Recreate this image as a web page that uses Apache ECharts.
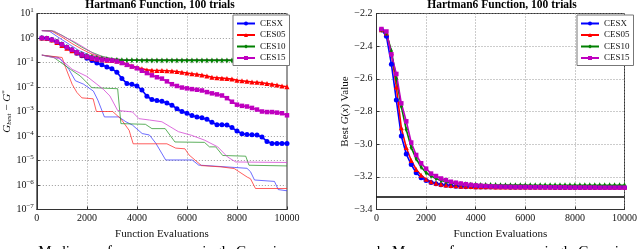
<!DOCTYPE html>
<html><head><meta charset="utf-8">
<script src="https://cdn.jsdelivr.net/npm/echarts@6/dist/echarts.min.js"></script>
<style>html,body{margin:0;padding:0;background:#fff}#c{width:640px;height:249px}</style>
</head><body><div id="c"></div><script>
// ---- data ----
const evals = [200,400,600,800,1000,1200,1400,1600,1800,2000,2200,2400,2600,2800,3000,3200,3400,3600,3800,4000,
  4200,4400,4600,4800,5000,5200,5400,5600,5800,6000,6200,6400,6600,6800,7000,7200,7400,7600,7800,8000,
  8200,8400,8600,8800,9000,9200,9400,9600,9800,10000];
const names = ['CESX','CES05','CES10','CES15'];
const xTicks = [0,2000,4000,6000,8000,10000];

// left: median G_best - G*
const cesxMedian = [1.0,0.95,0.85,0.7,0.55,0.42,0.32,0.24,0.19,0.15,0.12,0.095,0.08,0.066,0.055,0.04,0.022,0.014,0.013,0.011,
  0.0075,0.0042,0.0031,0.0028,0.0026,0.0022,0.0018,0.0013,0.001,0.00085,0.00068,0.0006,0.00055,0.00048,0.00036,0.00029,0.00029,0.00028,0.00022,0.00016,
  0.000125,0.000115,0.000112,0.00011,0.00009,0.00006,0.00005,0.00005,0.00005,0.00005];
const ces05Median = [1.0,0.95,0.82,0.65,0.5,0.38,0.3,0.25,0.2,0.17,0.15,0.14,0.13,0.125,0.12,0.115,0.1,0.085,0.072,0.062,
  0.055,0.05,0.048,0.047,0.047,0.046,0.045,0.043,0.04,0.037,0.035,0.033,0.031,0.028,0.025,0.024,0.023,0.022,0.021,0.019,
  0.018,0.017,0.016,0.0155,0.015,0.014,0.013,0.012,0.011,0.0102];
const ces10Median = [1.0,0.97,0.85,0.7,0.55,0.43,0.34,0.27,0.22,0.19,0.17,0.155,0.145,0.137,0.13,0.127,0.125,0.124,0.123,0.123,
  0.122,0.122,0.122,0.122,0.122,0.122,0.122,0.122,0.122,0.122,0.122,0.122,0.122,0.122,0.122,0.122,0.122,0.122,0.122,0.122,
  0.122,0.122,0.122,0.122,0.122,0.122,0.122,0.122,0.122,0.122];
const ces15Median = [1.0,0.97,0.85,0.7,0.55,0.42,0.33,0.26,0.21,0.175,0.155,0.14,0.13,0.125,0.12,0.11,0.095,0.08,0.068,0.058,
  0.046,0.037,0.03,0.025,0.022,0.017,0.013,0.011,0.0095,0.0088,0.0082,0.0077,0.0072,0.0062,0.0055,0.005,0.0045,0.0035,0.0025,0.0019,
  0.0017,0.0016,0.0014,0.0012,0.001,0.00095,0.00095,0.0009,0.00085,0.0007];

// left: thin quartile lines [evals, value]
const cesxLow = [[200,0.2],[880,0.16],[1280,0.053],[1540,0.018],[1870,0.013],[2260,0.0068],[2440,0.0029],[2700,0.0006],[3280,0.0006],[3560,0.00038],[3820,0.00028],[4210,0.000126],[4500,0.00011],[4760,0.00005],[5150,0.0000105],[6210,0.0000105],[6470,0.0000065],[7900,0.0000052],[8400,0.0000048],[8540,0.0000035],[8700,0.0000016],[9500,0.0000014],[9650,0.00000065],[10000,0.00000058]];
const ces05Low = [[200,0.2],[1010,0.16],[1150,0.062],[1410,0.013],[1600,0.006],[1800,0.0036],[2250,0.0033],[2380,0.001],[3030,0.001],[3360,0.0005],[3690,0.00017],[3850,0.000048],[5200,0.000048],[5550,0.000032],[5920,0.00003],[6080,0.000017],[6580,0.0000062],[7360,0.0000055],[7890,0.0000047],[8410,0.0000021],[8540,0.0000018],[8740,0.00000072],[10000,0.00000072]];
const ces10Low = [[200,0.2],[680,0.16],[1340,0.053],[1740,0.028],[2200,0.0094],[2260,0.0085],[3230,0.0085],[3360,0.00032],[4340,0.0003],[4600,0.0002],[5130,0.0002],[5520,0.000057],[6700,0.000055],[6900,0.000036],[7150,0.000036],[7430,0.000016],[8350,0.000015],[8480,0.0000064],[10000,0.000006]];
const ces15Low = [[200,0.2],[950,0.137],[1410,0.053],[2000,0.027],[2400,0.013],[2660,0.008],[2920,0.0043],[3230,0.0011],[3820,0.00096],[4080,0.00051],[4500,0.00045],[5000,0.00038],[5660,0.00015],[6180,0.000107],[6700,0.000068],[7230,0.000036],[7620,0.000014],[7950,0.0000087],[10000,0.0000083]];
const cesxHigh = [[200,2.0],[500,1.9],[900,1.0],[1300,0.55],[1700,0.3],[2100,0.2],[2500,0.16],[3000,0.14],[3500,0.13],[10000,0.125]];
const ces05High = [[200,2.0],[600,1.9],[1000,1.1],[1400,0.6],[1800,0.35],[2200,0.22],[2600,0.16],[3000,0.14],[3500,0.13],[10000,0.125]];
const ces10High = [[200,2.0],[600,2.0],[1000,1.3],[1400,0.75],[1800,0.42],[2200,0.26],[2600,0.18],[3000,0.145],[3400,0.13],[4000,0.125],[10000,0.122]];
const ces15High = [[200,2.0],[700,1.9],[1100,1.1],[1500,0.7],[1900,0.4],[2300,0.22],[2700,0.16],[3100,0.14],[3600,0.13],[10000,0.125]];

// right: mean best G(x)
const cesxMean = [-2.30,-2.34,-2.51,-2.73,-2.95,-3.06,-3.125,-3.175,-3.205,-3.222,-3.234,-3.242,-3.248,-3.252,-3.255,-3.257,-3.259,-3.26,-3.261,-3.262,
  -3.262,-3.263,-3.263,-3.263,-3.263,-3.263,-3.264,-3.264,-3.264,-3.264,-3.264,-3.264,-3.264,-3.264,-3.264,-3.265,-3.265,-3.265,-3.265,-3.265,
  -3.265,-3.265,-3.265,-3.265,-3.265,-3.265,-3.265,-3.265,-3.265,-3.265];
const ces05Mean = [-2.30,-2.32,-2.44,-2.65,-2.9,-3.02,-3.1,-3.155,-3.19,-3.215,-3.23,-3.24,-3.246,-3.25,-3.253,-3.255,-3.257,-3.258,-3.259,-3.26,
  -3.261,-3.261,-3.261,-3.262,-3.262,-3.262,-3.262,-3.262,-3.263,-3.263,-3.263,-3.263,-3.263,-3.263,-3.263,-3.263,-3.263,-3.263,-3.263,-3.263,
  -3.263,-3.263,-3.263,-3.263,-3.263,-3.263,-3.263,-3.263,-3.263,-3.263];
const ces10Mean = [-2.30,-2.32,-2.43,-2.6,-2.77,-2.91,-3.02,-3.09,-3.14,-3.175,-3.195,-3.21,-3.222,-3.23,-3.237,-3.241,-3.244,-3.246,-3.248,-3.249,
  -3.25,-3.25,-3.25,-3.25,-3.251,-3.251,-3.251,-3.251,-3.251,-3.251,-3.252,-3.252,-3.252,-3.252,-3.252,-3.252,-3.252,-3.252,-3.252,-3.252,
  -3.252,-3.252,-3.252,-3.252,-3.252,-3.252,-3.252,-3.252,-3.252,-3.252];
const ces15Mean = [-2.295,-2.31,-2.45,-2.57,-2.75,-2.86,-2.99,-3.066,-3.117,-3.15,-3.18,-3.195,-3.21,-3.22,-3.23,-3.236,-3.241,-3.245,-3.249,-3.252,
  -3.254,-3.256,-3.258,-3.259,-3.26,-3.261,-3.261,-3.262,-3.262,-3.262,-3.263,-3.263,-3.263,-3.264,-3.264,-3.264,-3.264,-3.264,-3.265,-3.265,
  -3.265,-3.265,-3.265,-3.265,-3.266,-3.266,-3.266,-3.266,-3.266,-3.266];
const bandHalf = [0.08,0.07,0.05,0.045,0.04,0.035,0.03,0.025,0.022,0.02,0.018,0.016,0.015,0.014,0.013,0.012,0.012,0.012,0.012,0.012,
  0.012,0.012,0.012,0.012,0.012,0.012,0.012,0.012,0.012,0.012,0.012,0.012,0.012,0.012,0.012,0.012,0.012,0.012,0.012,0.012,
  0.012,0.012,0.012,0.012,0.012,0.012,0.012,0.012,0.012,0.012];
const globalMin = -3.3224;

// ---- styles ----
const FONT = 'Liberation Serif';
const colors = ['#0000ff','#ff0000','#008000','#bf00bf'];
const thinColors = ['rgba(60,60,255,0.75)','rgba(255,40,40,0.75)','rgba(40,150,40,0.75)','rgba(210,60,210,0.75)'];
const symbols = ['circle','triangle','diamond','rect'];
const symSizes = [5,5,[3,6],4.5];

const medians = [cesxMedian, ces05Median, ces10Median, ces15Median];
const lows = [cesxLow, ces05Low, ces10Low, ces15Low];
const highs = [cesxHigh, ces05High, ces10High, ces15High];
const means = [cesxMean, ces05Mean, ces10Mean, ces15Mean];

const series = [];
for (let k = 0; k < 4; k++) {
  for (const d of [highs[k], lows[k]]) {
    series.push({type:'line', name: names[k]+'_q', xAxisIndex:0, yAxisIndex:0, data:d, showSymbol:false, symbol:'none',
      lineStyle:{width:1, color:thinColors[k]}, itemStyle:{color:thinColors[k]}, z:1, silent:true});
  }
}
for (let k = 0; k < 4; k++) {
  series.push({type:'line', name:names[k], xAxisIndex:0, yAxisIndex:0, data: evals.map((x,i)=>[x, medians[k][i]]),
    symbol:symbols[k], symbolSize:symSizes[k], showAllSymbol:true,
    lineStyle:{width:1.6, color:colors[k]}, itemStyle:{color:colors[k], borderWidth:0}, z:3});
}
for (let k = 0; k < 4; k++) {
  series.push({type:'line', name:'b'+k+'lo', xAxisIndex:1, yAxisIndex:1, stack:'band'+k, stackStrategy:'all',
    data: evals.map((x,i)=>[x, means[k][i]-bandHalf[i]]), symbol:'none', lineStyle:{opacity:0}, silent:true, z:1});
  series.push({type:'line', name:'b'+k+'hi', xAxisIndex:1, yAxisIndex:1, stack:'band'+k, stackStrategy:'all',
    data: evals.map((x,i)=>[x, 2*bandHalf[i]]), symbol:'none', lineStyle:{opacity:0},
    areaStyle:{color:colors[k], opacity:0.2}, silent:true, z:1});
}
for (let k = 0; k < 4; k++) {
  const s = {type:'line', name:names[k], xAxisIndex:1, yAxisIndex:1, data: evals.map((x,i)=>[x, means[k][i]]),
    symbol:symbols[k], symbolSize:symSizes[k], showAllSymbol:true,
    lineStyle:{width:1.6, color:colors[k]}, itemStyle:{color:colors[k], borderWidth:0}, z:3};
  if (k === 0) s.markLine = {silent:true, symbol:'none', label:{show:false}, data:[{yAxis: globalMin}],
    lineStyle:{color:'#000', width:1.5, type:'solid'}};
  series.push(s);
}

const tickFont = {fontFamily:FONT, fontSize:10, color:'#111'};
const split = {show:true, lineStyle:{type:[1,2], color:'#999', width:1}};
const xAxisBase = (gi) => ({type:'value', gridIndex:gi, min:0, max:10000, interval:2000,
  name:'Function Evaluations', nameLocation:'middle', nameGap:13,
  nameTextStyle:{fontFamily:FONT, fontSize:11, color:'#111'},
  axisLine:{lineStyle:{color:'#333'}}, axisTick:{inside:true, length:3, lineStyle:{color:'#333'}},
  axisLabel:{...tickFont, margin:4, formatter:(v)=> xTicks.includes(v) ? String(v) : ''}, splitLine:split});

const supText = (v) => { const e = Math.round(Math.log10(v)); return '{b|10}{s|' + (e<0 ? '\u2212'+(-e) : e) + '}'; };

const titleStyle = {fontFamily:FONT, fontSize:11.5, fontWeight:'bold', color:'#000'};
const option = {
  animation:false,
  backgroundColor:'#fff',
  title:[
    {text:'Hartman6 Function, 100 trials', left:160, top:-1, padding:0, textAlign:'center', textStyle:titleStyle},
    {text:'Hartman6 Function, 100 trials', left:502, top:-1, padding:0, textAlign:'center', textStyle:titleStyle}
  ],
  grid:[
    {left:33, top:13.5, width:254, height:196, show:true, borderColor:'#333', borderWidth:1, backgroundColor:'transparent'},
    {left:376.5, top:13.5, width:252, height:196, show:true, borderColor:'#333', borderWidth:1, backgroundColor:'transparent'}
  ],
  xAxis:[xAxisBase(0), xAxisBase(1)],
  yAxis:[
    {type:'log', gridIndex:0, logBase:10, min:1e-7, max:10, splitNumber:8,
      name:'{i|G}{sub|best}{n| \u2212 }{i|G}{sup|*}', nameLocation:'middle', nameGap:22,
      nameTextStyle:{fontFamily:FONT, fontSize:11, color:'#111',
        rich:{i:{fontFamily:FONT, fontStyle:'italic', fontSize:11}, n:{fontFamily:FONT, fontSize:11},
          sub:{fontFamily:FONT, fontStyle:'italic', fontSize:7, padding:[4,0,0,0]},
          sup:{fontFamily:FONT, fontSize:7, padding:[0,0,5,0]}}},
      axisLine:{lineStyle:{color:'#333'}}, axisTick:{inside:true, length:3, lineStyle:{color:'#333'}},
      axisLabel:{margin:3, formatter:supText,
        rich:{b:{fontFamily:FONT, fontSize:10, color:'#111'}, s:{fontFamily:FONT, fontSize:7, color:'#111', padding:[0,0,6,0]}}},
      splitLine:split},
    {type:'value', gridIndex:1, min:-3.4, max:-2.2, interval:0.2,
      name:'Best {i|G}({i|x}) Value', nameLocation:'middle', nameGap:26,
      nameTextStyle:{fontFamily:FONT, fontSize:11, color:'#111', rich:{i:{fontFamily:FONT, fontStyle:'italic', fontSize:11}}},
      axisLine:{lineStyle:{color:'#333'}}, axisTick:{inside:true, length:3, lineStyle:{color:'#333'}},
      axisLabel:{...tickFont, margin:4, formatter:(v)=> (v<0?'\u2212':'') + Math.abs(v).toFixed(1)},
      splitLine:split}
  ],
  legend:[
    {data:names, orient:'vertical', left:233, top:15, itemWidth:18, itemHeight:5, itemGap:2.5,
      padding:[4,4,3,3], borderColor:'#777', borderWidth:1, backgroundColor:'#fff',
      textStyle:{fontFamily:FONT, fontSize:9, color:'#111', lineHeight:9}},
    {data:names, orient:'vertical', left:577, top:15, itemWidth:18, itemHeight:5, itemGap:2.5,
      padding:[4,4,3,3], borderColor:'#777', borderWidth:1, backgroundColor:'#fff',
      textStyle:{fontFamily:FONT, fontSize:9, color:'#111', lineHeight:9}}
  ],
  graphic:[
    {type:'text', left:24, top:245, style:{text:'a. Median performance on a single Gaussian', font:'15px "Liberation Serif"', fill:'#000'}},
    {type:'text', left:377, top:245, style:{text:'b. Mean performance on a single Gaussian', font:'15px "Liberation Serif"', fill:'#000'}}
  ],
  series
};
const chart = echarts.init(document.getElementById('c'), null, {renderer:'canvas'});
chart.setOption(option);
</script></body></html>
